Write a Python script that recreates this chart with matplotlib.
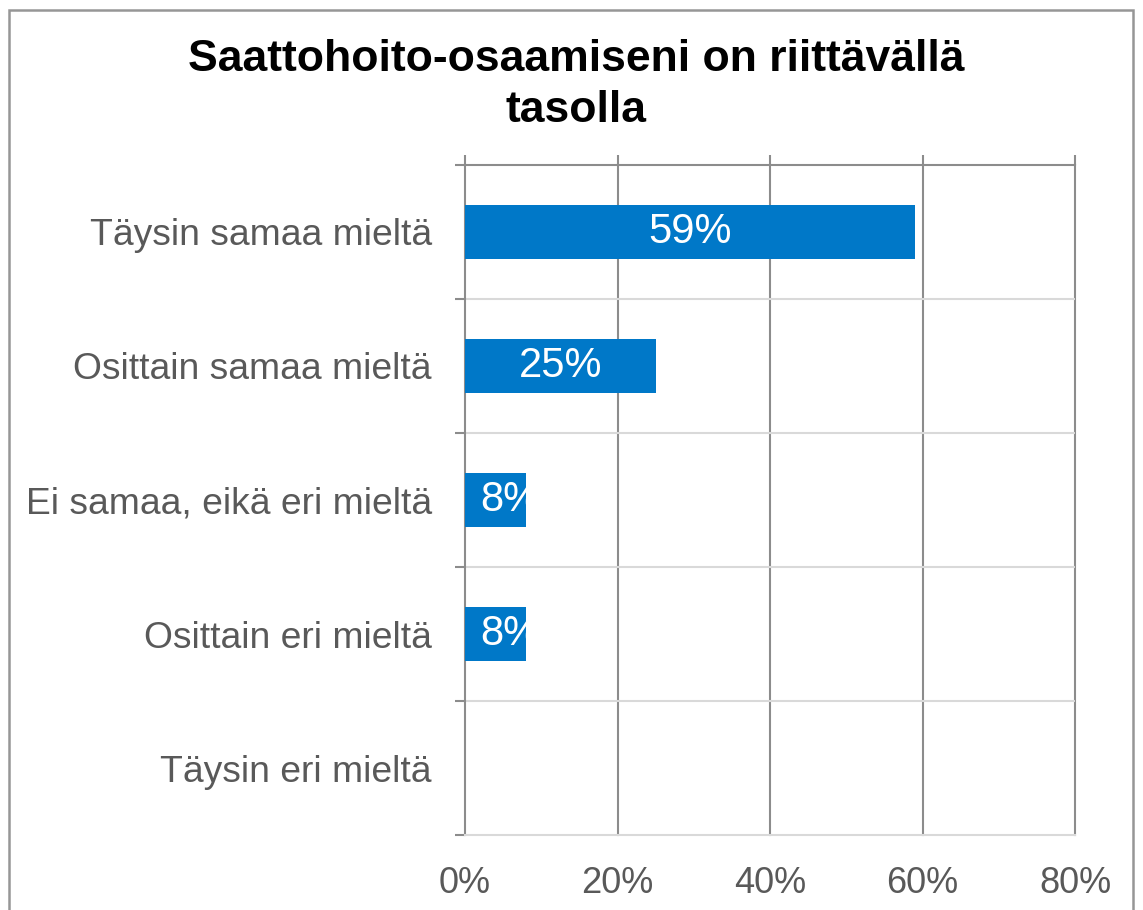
import matplotlib.pyplot as plt
from matplotlib.patches import Rectangle

plt.rcParams['font.family'] = ['Liberation Sans', 'DejaVu Sans']

categories = ['Täysin samaa mieltä', 'Osittain samaa mieltä', 'Ei samaa, eikä eri mieltä',
              'Osittain eri mieltä', 'Täysin eri mieltä']
values = [59, 25, 8, 8, 0]
xticks = [0, 20, 40, 60, 80]
title = 'Saattohoito-osaamiseni on riittävällä\ntasolla'

bar_color = '#0078c8'
dark = '#8c8c8c'
light = '#d9d9d9'
text_gray = '#595959'

fig = plt.figure(figsize=(11.43, 9.10), dpi=100)
fig.add_artist(Rectangle((9 / 1143, -0.01), (1133 - 9) / 1143, 1 - 10 / 910 + 0.01,
                         transform=fig.transFigure, fill=False, edgecolor='#969696', lw=1.8))

ax = fig.add_axes([465 / 1143, 75 / 910, 610 / 1143, 670 / 910])
pos = list(range(len(categories)))
bars = ax.barh(pos, values, height=0.4, color=bar_color, zorder=3)
ax.set_xlim(0, 80)
ax.set_ylim(4.5, -0.5)

# gridlines
for x in xticks[1:]:
    ax.axvline(x, color=dark, lw=1.5, zorder=1, clip_on=False)
for b in [0.5, 1.5, 2.5, 3.5]:
    ax.axhline(b, color=light, lw=1.5, zorder=1)

ax.spines['right'].set_visible(False)
ax.spines['bottom'].set_color(light)
ax.spines['bottom'].set_linewidth(1.5)
ax.spines['top'].set_color(dark)
ax.spines['top'].set_linewidth(1.5)
ax.spines['left'].set_color(dark)
ax.spines['left'].set_linewidth(1.5)

ax.set_xticks(xticks)
ax.set_xticklabels([f'{x}%' for x in xticks])
ax.tick_params(axis='x', top=True, bottom=False, labeltop=False, labelbottom=True,
               length=7, width=1.5, color=dark, labelsize=26, labelcolor=text_gray, pad=15)
ax.set_yticks(pos)
ax.set_yticklabels(categories)
ax.set_yticks([-0.5, 0.5, 1.5, 2.5, 3.5, 4.5], minor=True)
ax.tick_params(axis='y', which='major', length=0, labelsize=26.8, labelcolor=text_gray, pad=24)
ax.tick_params(axis='y', which='minor', length=7, width=1.5, color=dark)

for b, v in zip(bars, values):
    if v == 0:
        continue
    if v >= 15:
        t = ax.text(v / 2, b.get_y() + b.get_height() / 2, f'{v}%', ha='center', va='center',
                    color='white', fontsize=30, zorder=4)
    else:
        t = ax.text(2.0, b.get_y() + b.get_height() / 2, f'{v}%', ha='left', va='center',
                    color='white', fontsize=30, zorder=4)
    t.set_clip_path(b)

fig.text(576 / 1143, 1 - 39 / 910, title, ha='center', va='top', fontsize=32,
         fontweight='bold', color='black', linespacing=1.3)

fig.savefig('out.png', dpi=100)
